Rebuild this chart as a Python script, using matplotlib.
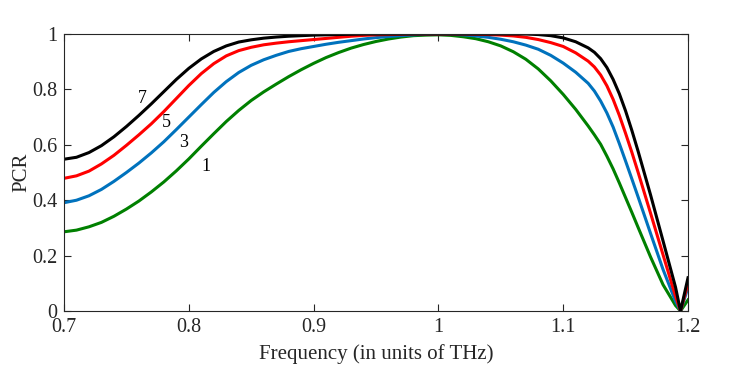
import matplotlib
matplotlib.use("Agg")
from matplotlib import pyplot as plt

plt.rcParams['font.family'] = ['Liberation Serif', 'DejaVu Serif']

# frequency grid (THz)
freq = [0.70, 0.71, 0.72, 0.73, 0.74, 0.75, 0.76, 0.77, 0.78, 0.79,
        0.80, 0.81, 0.82, 0.83, 0.84, 0.85, 0.86, 0.87, 0.88, 0.89,
        0.90, 0.91, 0.92, 0.93, 0.94, 0.95, 0.96, 0.97, 0.98, 0.99,
        1.00, 1.01, 1.02, 1.03, 1.04, 1.05, 1.06, 1.07, 1.08, 1.09,
        1.10, 1.11, 1.12, 1.125, 1.13, 1.135, 1.14, 1.145, 1.15, 1.155,
        1.16, 1.17, 1.18, 1.19, 1.194, 1.20]

# PCR for 1, 3, 5, 7 layers
pcr_1 = [0.286, 0.292, 0.304, 0.320, 0.342, 0.368, 0.397, 0.430, 0.466, 0.506,
         0.549, 0.595, 0.640, 0.684, 0.724, 0.760, 0.791, 0.819, 0.846, 0.871,
         0.894, 0.915, 0.933, 0.949, 0.962, 0.973, 0.982, 0.989, 0.994, 0.996,
         0.997, 0.995, 0.990, 0.983, 0.972, 0.957, 0.936, 0.909, 0.874, 0.831,
         0.782, 0.728, 0.668, 0.636, 0.602, 0.559, 0.513, 0.462, 0.409, 0.356,
         0.302, 0.195, 0.095, 0.020, 0.0, 0.04]
pcr_3 = [0.391, 0.400, 0.416, 0.439, 0.468, 0.500, 0.534, 0.571, 0.611, 0.655,
         0.700, 0.745, 0.789, 0.828, 0.861, 0.887, 0.907, 0.923, 0.937, 0.947,
         0.955, 0.963, 0.970, 0.976, 0.982, 0.987, 0.991, 0.994, 0.997, 0.999,
         1.000, 0.999, 0.997, 0.993, 0.988, 0.981, 0.972, 0.960, 0.945, 0.923,
         0.895, 0.862, 0.822, 0.794, 0.758, 0.715, 0.664, 0.604, 0.541, 0.477,
         0.412, 0.280, 0.150, 0.035, 0.0, 0.085]
pcr_5 = [0.479, 0.488, 0.505, 0.531, 0.562, 0.598, 0.636, 0.676, 0.720, 0.767,
         0.814, 0.857, 0.893, 0.921, 0.940, 0.952, 0.961, 0.967, 0.972, 0.976,
         0.980, 0.984, 0.988, 0.992, 0.995, 0.997, 0.998, 0.999, 1.000, 1.000,
         1.000, 1.000, 1.000, 0.999, 0.998, 0.996, 0.993, 0.988, 0.980, 0.969,
         0.955, 0.932, 0.902, 0.881, 0.852, 0.813, 0.764, 0.706, 0.641, 0.573,
         0.501, 0.353, 0.203, 0.053, 0.0, 0.10]
pcr_7 = [0.548, 0.555, 0.572, 0.597, 0.629, 0.666, 0.706, 0.748, 0.792, 0.836,
         0.876, 0.910, 0.937, 0.957, 0.971, 0.979, 0.985, 0.989, 0.992, 0.994,
         0.996, 0.997, 0.998, 0.999, 1.000, 1.000, 1.000, 1.000, 1.000, 1.000,
         1.000, 1.000, 1.000, 1.000, 1.000, 1.000, 1.000, 1.000, 0.998, 0.994,
         0.986, 0.972, 0.950, 0.934, 0.911, 0.879, 0.836, 0.784, 0.722, 0.652,
         0.577, 0.419, 0.253, 0.086, 0.0, 0.12]

labels = ['1', '3', '5', '7']
colors = ['#008000', '#0072BD', '#FF0000', '#000000']
label_pos = [(0.8136, 0.523), (0.7958, 0.608), (0.7818, 0.680), (0.7629, 0.768)]

fig = plt.figure(figsize=(7.39, 3.77), dpi=100)
ax = fig.add_axes([0.0866, 0.175, 0.8444, 0.7348])

for series, c in zip([pcr_1, pcr_3, pcr_5, pcr_7], colors):
    ax.plot(freq, series, color=c, linewidth=2.2, solid_joinstyle='round')

for lab, (lx, ly) in zip(labels, label_pos):
    ax.text(lx, ly, lab, fontsize=13, ha='center', va='center', color='#000000')

ax.set_xlim(0.7, 1.2)
ax.set_ylim(0, 1)
ax.set_xticks([0.7, 0.8, 0.9, 1.0, 1.1, 1.2])
ax.set_xticklabels(['0.7', '0.8', '0.9', '1', '1.1', '1.2'])
ax.set_yticks([0, 0.2, 0.4, 0.6, 0.8, 1.0])
ax.set_yticklabels(['0', '0.2', '0.4', '0.6', '0.8', '1'])
ax.tick_params(direction='in', top=True, right=True, length=5, width=0.8,
               labelsize=14.5, colors='#262626', pad=5)
for s in ax.spines.values():
    s.set_color('#262626')
    s.set_linewidth(0.8)

ax.set_xlabel('Frequency (in units of THz)', fontsize=15, color='#262626', labelpad=5)
ax.set_ylabel('PCR', fontsize=15, color='#262626', labelpad=0)

fig.savefig('out.png', dpi=100)
